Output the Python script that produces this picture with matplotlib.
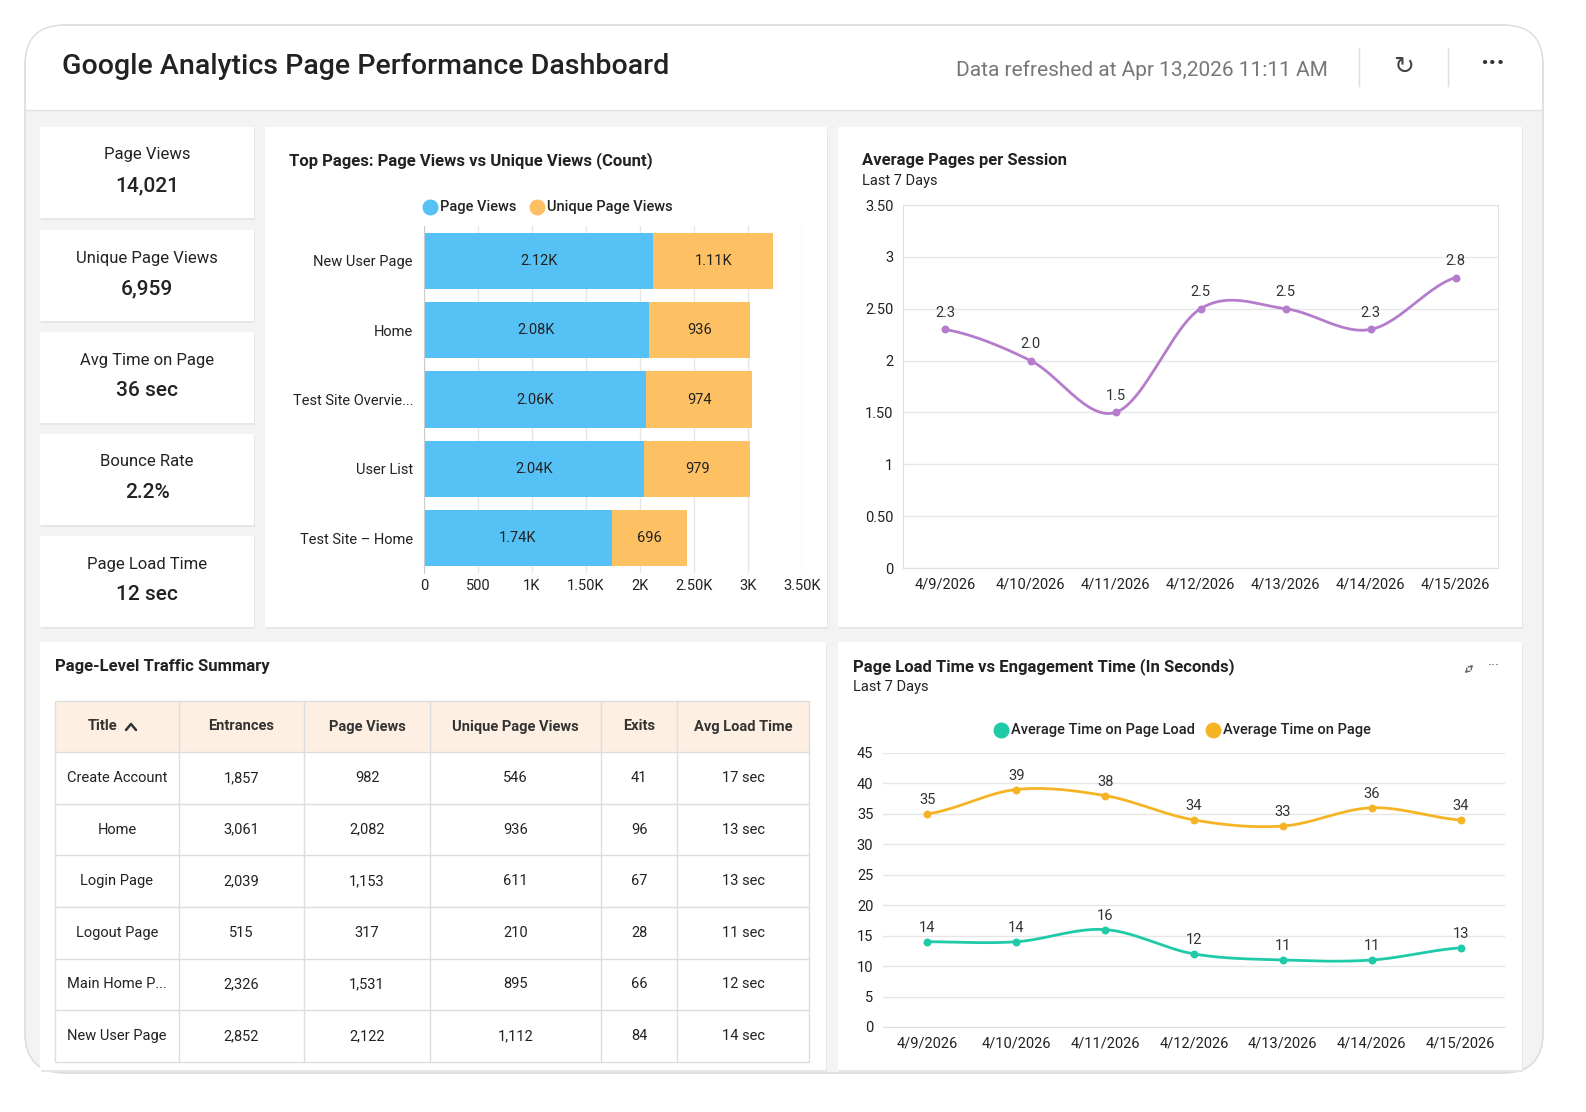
import numpy as np
import matplotlib.pyplot as plt
from matplotlib.patches import FancyBboxPatch, Rectangle

plt.rcParams['font.family'] = ['Roboto', 'DejaVu Sans']

W, H = 1586, 1112

kpi_names = ["Page Views", "Unique Page Views", "Avg Time on Page", "Bounce Rate", "Page Load Time"]
kpi_values = ["14,021", "6,959", "36 sec", "2.2%", "12 sec"]

pages = ["New User Page", "Home", "Test Site Overvie...", "User List", "Test Site \u2013 Home"]
page_views = [2122, 2082, 2060, 2040, 1740]
unique_views = [1112, 936, 974, 979, 696]
pv_labels = ["2.12K", "2.08K", "2.06K", "2.04K", "1.74K"]
uv_labels = ["1.11K", "936", "974", "979", "696"]

dates = ["4/9/2026", "4/10/2026", "4/11/2026", "4/12/2026", "4/13/2026", "4/14/2026", "4/15/2026"]
pages_per_session = [2.3, 2.0, 1.5, 2.5, 2.5, 2.3, 2.8]
load_time = [14, 14, 16, 12, 11, 11, 13]
time_on_page = [35, 39, 38, 34, 33, 36, 34]

tbl_cols = ["Title", "Entrances", "Page Views", "Unique Page Views", "Exits", "Avg Load Time"]
tbl_rows = [
    ["Create Account", "1,857", "982", "546", "41", "17 sec"],
    ["Home", "3,061", "2,082", "936", "96", "13 sec"],
    ["Login Page", "2,039", "1,153", "611", "67", "13 sec"],
    ["Logout Page", "515", "317", "210", "28", "11 sec"],
    ["Main Home P...", "2,326", "1,531", "895", "66", "12 sec"],
    ["New User Page", "2,852", "2,122", "1,112", "84", "14 sec"],
]

BLUE, ORANGE = "#56c1f4", "#fdc062"
PURPLE, TEAL, GOLD = "#b57ccc", "#1fcaa9", "#f6b425"
TXT = "#222222"


def smooth(y, n=30):
    # Catmull-Rom curve through the points, only for drawing
    y = np.asarray(y, float)
    p = np.concatenate([[y[0]], y, [y[-1]]])
    xs, ys = [], []
    for i in range(len(y) - 1):
        t = np.linspace(0, 1, n)
        p0, p1, p2, p3 = p[i], p[i + 1], p[i + 2], p[i + 3]
        yy = 0.5 * (2 * p1 + (-p0 + p2) * t + (2 * p0 - 5 * p1 + 4 * p2 - p3) * t ** 2
                    + (-p0 + 3 * p1 - 3 * p2 + p3) * t ** 3)
        xs.append(i + t)
        ys.append(yy)
    return np.concatenate(xs), np.concatenate(ys)


fig = plt.figure(figsize=(W / 100, H / 100), dpi=100)
bg = fig.add_axes([0, 0, 1, 1])
bg.set_xlim(0, W)
bg.set_ylim(H, 0)
bg.axis("off")


def box(x0, y0, x1, y1, fc="white", ec="none", r=0, lw=1, z=1):
    bg.add_patch(FancyBboxPatch((x0, y0), x1 - x0, y1 - y0,
                                boxstyle=f"round,pad=0,rounding_size={r}",
                                fc=fc, ec=ec, lw=lw, zorder=z))


def ax_px(x0, y0, x1, y1):
    return fig.add_axes([x0 / W, 1 - y1 / H, (x1 - x0) / W, (y1 - y0) / H])


# outer card
box(25, 25, 1543, 1073, fc="#f3f3f3", ec="#dddddd", r=40, lw=1.2)
box(26, 26, 1542, 110, fc="white", r=38, z=1.1)
bg.add_patch(Rectangle((26, 70), 1516, 40, fc="white", ec="none", zorder=1.2))
bg.plot([26, 1542], [110, 110], color="#e2e2e2", lw=1, zorder=1.3)
bg.text(62, 67, "Google Analytics Page Performance Dashboard", fontsize=20.5,
        color=TXT, va="center", fontweight="medium", zorder=2)
bg.text(1328, 70, "Data refreshed at Apr 13,2026 11:11 AM", fontsize=15,
        color="#777777", va="center", ha="right", zorder=2)
for x in (1359, 1448):
    bg.plot([x, x], [48, 86], color="#dddddd", lw=1, zorder=2)
bg.text(1404, 67, "\u21bb", fontsize=18, ha="center", va="center", color="#444444", zorder=2)
bg.text(1493, 64, "\u00b7\u00b7\u00b7", fontsize=20, ha="center", va="center",
        color="#333333", fontweight="bold", zorder=2)

# panels
for (x0, y0, x1, y1) in [(265, 127, 827, 627), (838, 127, 1522, 627),
                         (40, 642, 826, 1070), (838, 642, 1522, 1070)]:
    box(x0 + 1, y0 + 2, x1 + 1, y1 + 2, fc="#e6e6e6", z=1.4)
    box(x0, y0, x1, y1, z=1.5)

# KPI cards
kpi_top = [127, 230, 332, 434, 536]
for name, val, y0 in zip(kpi_names, kpi_values, kpi_top):
    box(41, y0 + 2, 255, y0 + 93, fc="#e6e6e6", z=1.4)
    box(40, y0, 254, y0 + 91, z=1.5)
    bg.text(147, y0 + 28, name, fontsize=12, ha="center", va="center", color=TXT, zorder=2)
    bg.text(147, y0 + 59, val, fontsize=15, ha="center", va="center", color=TXT,
            fontweight="medium", zorder=2)

# ---- bar chart
bg.text(289, 161, "Top Pages: Page Views vs Unique Views (Count)", fontsize=12,
        fontweight="bold", va="center", color=TXT, zorder=2)
for x, lab, c in [(430, "Page Views", BLUE), (537, "Unique Page Views", ORANGE)]:
    bg.scatter([x], [207], s=110, color=c, zorder=3)
    bg.text(x + 10, 207, lab, fontsize=10.5, va="center", color=TXT, fontweight="medium", zorder=3)

ax = ax_px(424, 226, 802, 573)
ypos = np.arange(len(pages))
ax.barh(ypos, page_views, height=0.81, color=BLUE, zorder=2)
ax.barh(ypos, unique_views, left=page_views, height=0.81, color=ORANGE, zorder=2)
for i in ypos:
    ax.text(page_views[i] / 2, i, pv_labels[i], ha="center", va="center", fontsize=10.5, color=TXT)
    ax.text(page_views[i] + unique_views[i] / 2, i, uv_labels[i], ha="center", va="center",
            fontsize=10.5, color=TXT)
ax.set_ylim(4.5, -0.5)
ax.set_xlim(0, 3500)
ax.set_yticks(ypos, pages, fontsize=10.5, color=TXT)
ax.set_xticks([0, 500, 1000, 1500, 2000, 2500, 3000, 3500],
              ["0", "500", "1K", "1.50K", "2K", "2.50K", "3K", "3.50K"], fontsize=10.5, color=TXT)
ax.grid(axis="x", color="#e6e6e6", lw=1, zorder=0)
for s in ["top", "right", "bottom"]:
    ax.spines[s].set_visible(False)
ax.spines["left"].set_color("#cccccc")
ax.tick_params(length=0, pad=8)
ax.tick_params(axis="x", pad=4)

# ---- average pages per session
bg.text(862, 161, "Average Pages per Session", fontsize=12, fontweight="bold",
        va="center", color=TXT, zorder=2)
bg.text(862, 181, "Last 7 Days", fontsize=10.5, va="center", color=TXT, zorder=2)
ax2 = ax_px(903, 205, 1498, 568)
xs, ys = smooth(pages_per_session)
ax2.plot(xs, ys, color=PURPLE, lw=2)
ax2.scatter(range(7), pages_per_session, s=22, color=PURPLE, zorder=3)
for i, v in enumerate(pages_per_session):
    ax2.annotate(f"{v:.1f}", (i, v), xytext=(0, 9), textcoords="offset points",
                 ha="center", fontsize=10.5, color="#333333")
ax2.set_xlim(-0.5, 6.5)
ax2.set_ylim(0, 3.5)
ax2.set_yticks(np.arange(0, 3.6, 0.5), ["0", "0.50", "1", "1.50", "2", "2.50", "3", "3.50"],
               fontsize=10.5, color=TXT)
ax2.set_xticks(range(7), dates, fontsize=10.5, color=TXT)
ax2.grid(axis="y", color="#e6e6e6", lw=1)
for s in ax2.spines.values():
    s.set_color("#e0e0e0")
ax2.tick_params(length=0, pad=7)

# ---- table
bg.text(55, 667, "Page-Level Traffic Summary", fontsize=12, fontweight="bold",
        va="center", color=TXT, zorder=2)
col_x = [55, 179, 304, 430, 601, 677, 809]
hy0, hy1 = 701, 752
rh = (1062 - hy1) / len(tbl_rows)
bg.add_patch(Rectangle((55, hy0), 754, hy1 - hy0, fc="#fdf0e3", ec="none", zorder=2))
bg.add_patch(Rectangle((55, hy0), 754, 1062 - hy0, fc="none", ec="#dddddd", lw=1, zorder=3))
for x in col_x[1:-1]:
    bg.plot([x, x], [hy0, 1062], color="#dddddd", lw=1, zorder=3)
for r in range(len(tbl_rows)):
    y = hy1 + r * rh
    bg.plot([55, 809], [y, y], color="#dddddd", lw=1, zorder=3)
for j, c in enumerate(tbl_cols):
    cx = (col_x[j] + col_x[j + 1]) / 2
    bg.text(cx - (14 if j == 0 else 0), (hy0 + hy1) / 2, c, ha="center", va="center",
            fontsize=10.5, fontweight="bold", color="#333333", zorder=4)
# sort chevron
bg.plot([126, 131, 136], [730, 724, 730], color="#333333", lw=1.8, zorder=4,
        solid_capstyle="round", solid_joinstyle="round")
for r, row in enumerate(tbl_rows):
    cy = hy1 + (r + 0.5) * rh
    for j, v in enumerate(row):
        cx = (col_x[j] + col_x[j + 1]) / 2
        bg.text(cx, cy, v, ha="center", va="center", fontsize=10.5, color=TXT, zorder=4)

# ---- load vs engagement
bg.text(853, 667, "Page Load Time vs Engagement Time (In Seconds)", fontsize=12,
        fontweight="bold", va="center", color=TXT, zorder=2)
bg.text(853, 687, "Last 7 Days", fontsize=10.5, va="center", color=TXT, zorder=2)
# expand icon
for (a, b) in [((1469, 669), (1475, 663)), ((1469, 669), (1463, 675))]:
    bg.annotate("", xy=b, xytext=a, zorder=3,
                arrowprops=dict(arrowstyle="->,head_length=0.25,head_width=0.15",
                                color="#666666", lw=1))
bg.text(1494, 667, "\u00b7\u00b7\u00b7", fontsize=11, ha="center", va="center", color="#666666", zorder=2)
for x, lab, c in [(1001, "Average Time on Page Load", TEAL), (1213, "Average Time on Page", GOLD)]:
    bg.scatter([x], [730], s=110, color=c, zorder=3)
    bg.text(x + 10, 730, lab, fontsize=10.5, va="center", color=TXT, fontweight="medium", zorder=3)

ax3 = ax_px(883, 753, 1505, 1027)
for vals, c in [(time_on_page, GOLD), (load_time, TEAL)]:
    xs, ys = smooth(vals)
    ax3.plot(xs, ys, color=c, lw=2)
    ax3.scatter(range(7), vals, s=22, color=c, zorder=3)
    for i, v in enumerate(vals):
        ax3.annotate(str(v), (i, v), xytext=(0, 7), textcoords="offset points",
                     ha="center", fontsize=10.5, color="#333333")
ax3.set_xlim(-0.5, 6.5)
ax3.set_ylim(0, 45)
ax3.set_yticks(range(0, 46, 5))
ax3.tick_params(labelsize=10.5, labelcolor=TXT, length=0, pad=7)
ax3.set_xticks(range(7), dates)
ax3.grid(axis="y", color="#e6e6e6", lw=1)
for s in ["top", "right", "left"]:
    ax3.spines[s].set_visible(False)
ax3.spines["bottom"].set_color("#e0e0e0")

fig.savefig("out.png", dpi=100, facecolor="white")
